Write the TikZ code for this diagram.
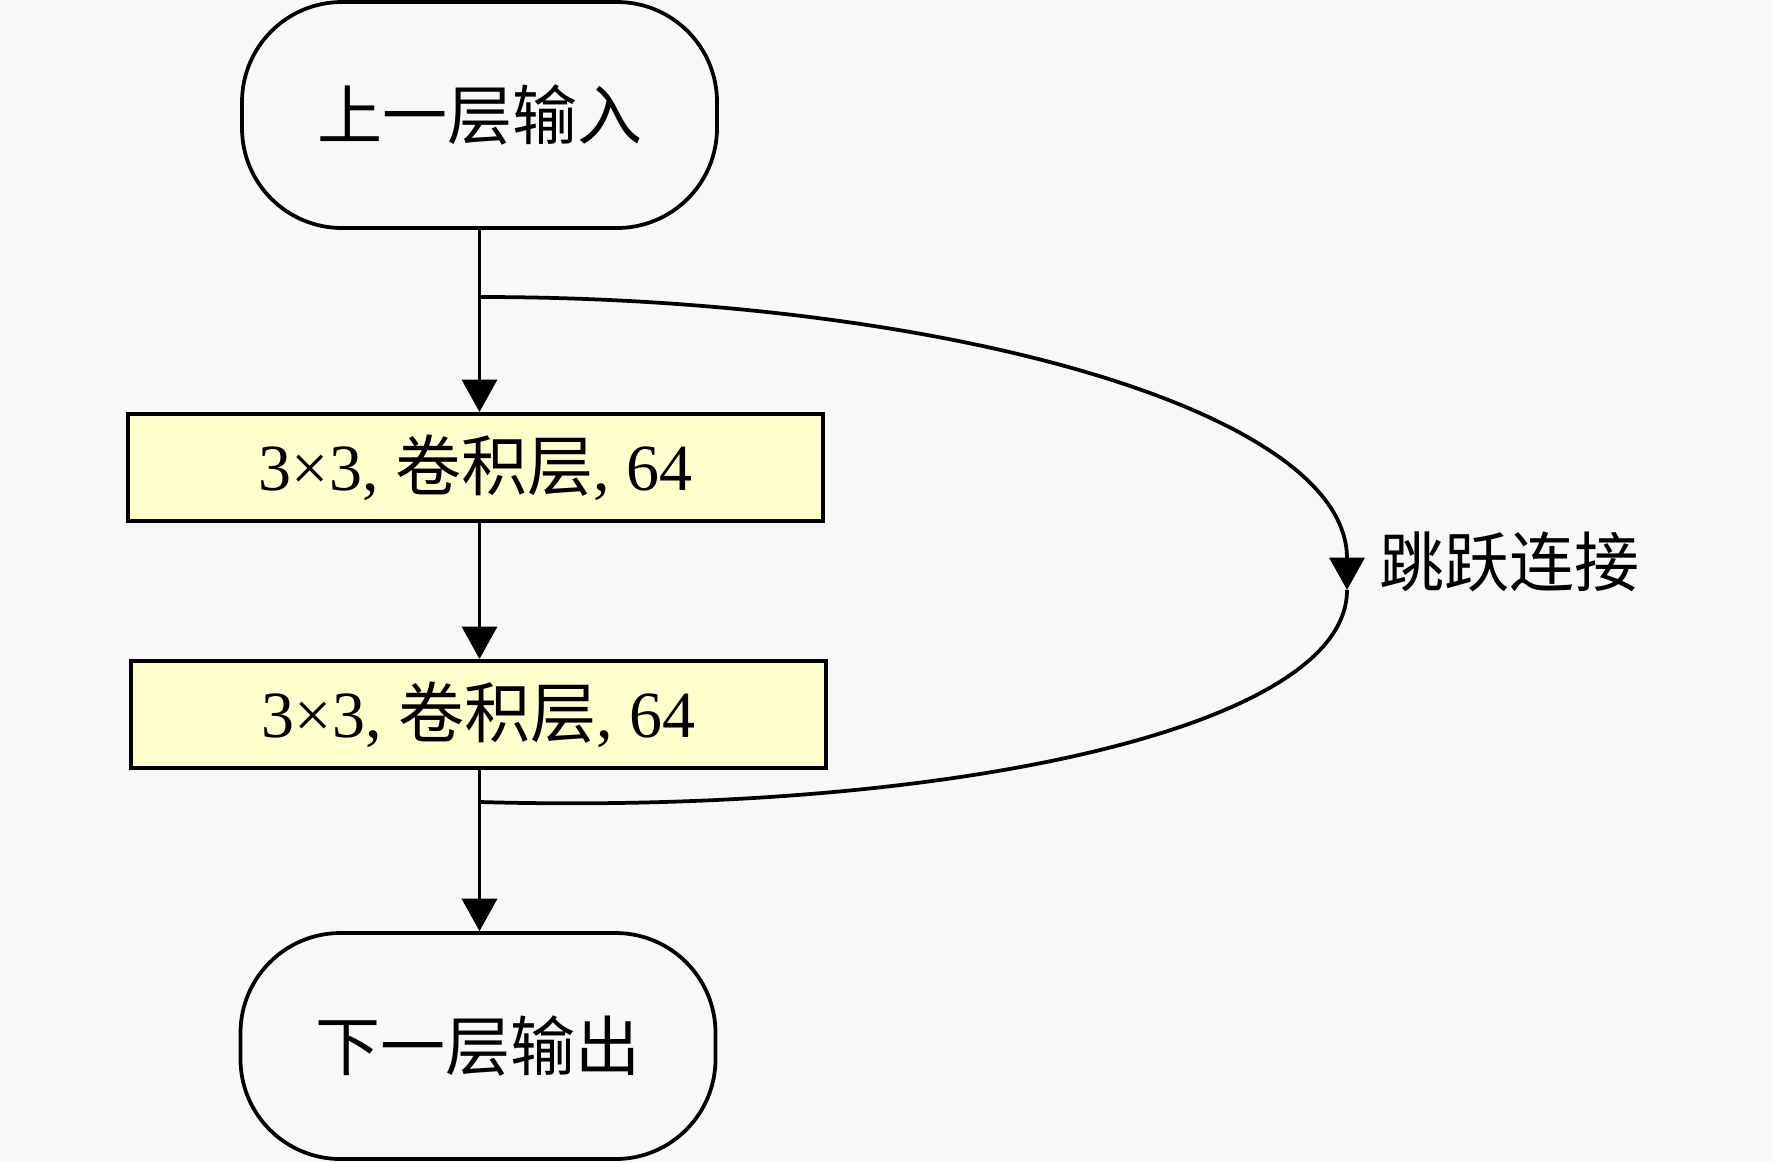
\documentclass[tikz,border=0pt]{standalone}
\usepackage{fontspec}
\setmainfont{Liberation Serif}
\newfontfamily\cjk{Noto Sans CJK SC}
\usetikzlibrary{arrows.meta}
\definecolor{bgc}{HTML}{F8F8F8}
\definecolor{boxc}{HTML}{FFFFCC}
\begin{document}
\begin{tikzpicture}[x=0.4pt,y=-0.4pt,
  term/.style={draw, line width=1.5pt, rounded corners=40pt, minimum width=190pt, minimum height=90.4pt, inner sep=0pt, font=\fontsize{26}{30}\selectfont\cjk},
  conv/.style={draw, line width=1.6pt, fill=boxc, minimum width=278pt, minimum height=42.8pt, inner sep=0pt, font=\fontsize{26.4}{30}\selectfont},
  conn/.style={line width=1.5pt, -{Triangle[width=14pt,length=13pt]}},
  lbl/.style={font=\fontsize{26}{30}\selectfont\cjk, anchor=west, inner sep=0pt}]
\fill[bgc] (0,0) rectangle (1772,1162);
\useasboundingbox (0,0) rectangle (1772,1162);
\node[term] (top) at (479.5,115) {上一层输入};
\node[conv] (b1) at (475.5,467.5) {3×3, {\cjk 卷积层}, 64};
\node[conv] (b2) at (478.5,714.5) {3×3, {\cjk 卷积层}, 64};
\node[term] (bot) at (478,1046) {下一层输出};
\draw[conn] (top.south) -- (top.south |- b1.north);
\draw[conn] (top.south |- b1.south) -- (top.south |- b2.north);
\draw[conn] (top.south |- b2.south) -- (top.south |- bot.north);
\coordinate (s1) at (480,297);
\coordinate (s2) at (480,802);
\coordinate (m) at (1347,590);
\draw[conn] (s1) .. controls (940,297) and (1347,410) .. (m);
\draw[line width=1.5pt] (m) .. controls (1347,730) and (940,815) .. (s2);
\node[lbl] (skip) at (1379,562) {跳跃连接};
\end{tikzpicture}
\end{document}
